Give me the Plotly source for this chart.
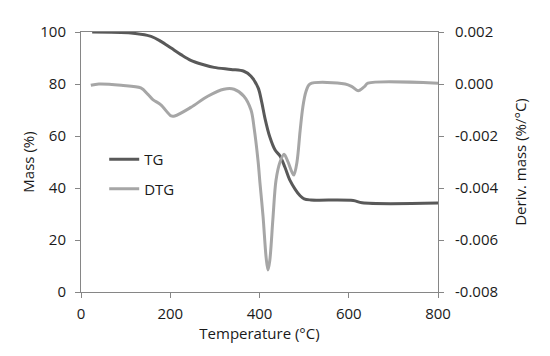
import plotly.graph_objects as go

# TG curve (left axis, mass %)
tg_temp = [25, 112, 157, 179, 202, 224, 246, 269, 298, 336, 365, 381, 397, 405, 412, 423, 435,
           446, 457, 468, 480, 491, 500, 515, 610, 630, 800]
tg_mass = [100, 99.6, 98.3, 96.4, 93.8, 91.3, 89.1, 87.7, 86.4, 85.6, 84.9, 83, 78.5, 73, 67, 59.7,
           54.6, 52.3, 48, 43, 39.5, 37, 35.8, 35.4, 35.2, 34.3, 34.2]

# DTG curve (right axis, %/°C)
dtg_temp = [22, 40, 90, 134, 150, 161, 179, 202, 210, 246, 284, 320, 343, 365, 381, 388, 397,
            401, 408, 415, 419, 423, 430, 437, 446, 455, 464, 473, 477, 484, 491, 497, 504,
            513, 592, 607, 621, 635, 643, 800]
dtg_val = [-0.00005, 0.0, -0.00005, -0.00015, -0.0004, -0.0006, -0.0008, -0.00123, -0.00123,
           -0.0009, -0.00047, -0.0002, -0.0002, -0.00047, -0.001, -0.0017, -0.003, -0.0038,
           -0.0051, -0.0067, -0.00715, -0.0068, -0.0052, -0.0037, -0.003, -0.0027, -0.003,
           -0.0034, -0.0035, -0.003, -0.0018, -0.0009, -0.0003, 0.0, 0.0, -0.0001, -0.00026,
           -0.0001, 0.00003, 0.00003]

x_ticks = [0, 200, 400, 600, 800]
y_ticks = [0, 20, 40, 60, 80, 100]
y2_ticks = [-0.008, -0.006, -0.004, -0.002, 0.0, 0.002]
y2_ticktext = ["-0.008", "-0.006", "-0.004", "-0.002", "0.000", "0.002"]

FONT = "Open Sans"
TXT = "#1a1a1a"
AX = "#868686"

fig = go.Figure()
fig.add_trace(go.Scatter(x=tg_temp, y=tg_mass, name="TG", mode="lines",
                         line=dict(color="#595959", width=3, shape="spline", smoothing=0.9),
                         legendgroup="a"))
fig.add_trace(go.Scatter(x=dtg_temp, y=dtg_val, name="DTG", mode="lines", yaxis="y2",
                         line=dict(color="#a6a6a6", width=3, shape="spline", smoothing=0.9),
                         legendgroup="b"))

fig.update_layout(
    width=550, height=356,
    margin=dict(l=73, r=120, t=24, b=72),
    paper_bgcolor="white", plot_bgcolor="white",
    font=dict(family=FONT, size=15, color=TXT),
    showlegend=True,
    legend=dict(x=0.065, y=0.573, xanchor="left", yanchor="top", bgcolor="rgba(0,0,0,0)",
                font=dict(size=15, color=TXT), tracegroupgap=7, traceorder="grouped"),
    xaxis=dict(range=[0, 800], tickvals=x_ticks, showgrid=False, zeroline=False,
               showline=True, linecolor=AX, linewidth=1, mirror=True,
               ticks="outside", ticklen=5, tickcolor=AX, ticklabelstandoff=3,
               title=dict(text="Temperature (°C)", standoff=0, font=dict(size=15))),
    yaxis=dict(range=[0, 100], tickvals=y_ticks, showgrid=False, zeroline=False,
               showline=True, linecolor=AX, linewidth=1,
               ticks="outside", ticklen=5, tickcolor=AX, ticklabelstandoff=6,
               title=dict(text="Mass (%)", standoff=2, font=dict(size=15))),
    yaxis2=dict(range=[-0.008, 0.002], tickvals=y2_ticks, ticktext=y2_ticktext,
                overlaying="y", side="right", showgrid=False, zeroline=False,
                showline=True, linecolor=AX, linewidth=1,
                ticks="outside", ticklen=5, tickcolor=AX, ticklabelstandoff=8,
                title=dict(text="Deriv. mass (%/°C)", standoff=18, font=dict(size=15))),
)

fig.write_html("out.html")
